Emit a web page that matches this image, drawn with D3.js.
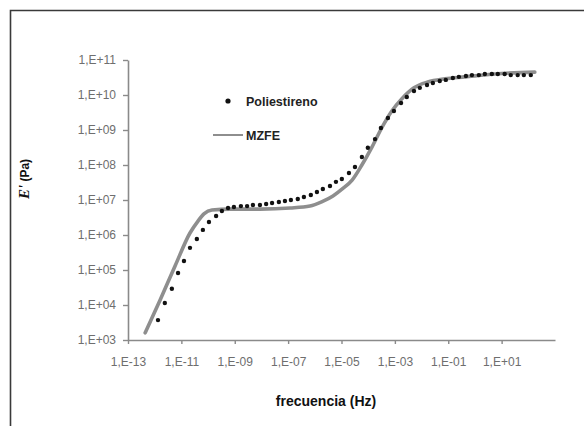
<!DOCTYPE html>
<html>
<head>
<meta charset="utf-8">
<script src="https://cdn.jsdelivr.net/npm/d3@7"></script>
<style>
  html, body { margin: 0; padding: 0; background: #fff; }
  svg { display: block; }
</style>
</head>
<body>
<svg id="chart" width="584" height="426"></svg>
<script>
// Storage modulus E' (Pa) against frequency (Hz): measured polystyrene points
const polyFreq = [
  1.33e-12, 2.4e-12, 4.4e-12, 7.5e-12, 1.25e-11, 2.1e-11, 3.8e-11, 6.4e-11, 1.08e-10, 2.0e-10,
  3.3e-10, 5.6e-10, 9.3e-10, 1.7e-9, 2.9e-9, 4.8e-9, 8.8e-9, 1.5e-8, 2.5e-8, 4.5e-8,
  7.6e-8, 1.27e-7, 2.3e-7, 3.9e-7, 7.1e-7, 1.2e-6, 2.0e-6, 3.7e-6, 6.2e-6, 1.03e-5,
  1.9e-5, 3.2e-5, 5.8e-5, 9.7e-5, 1.8e-4, 3.0e-4, 5.5e-4, 9.2e-4, 1.7e-3, 2.8e-3,
  5.2e-3, 8.6e-3, 1.6e-2, 2.65e-2, 4.8e-2, 8.1e-2, 0.149, 0.25, 0.46, 0.77,
  1.4, 2.35, 4.3, 7.2, 13, 22, 40, 68, 124
];
const polyE = [
  3.7e3, 1.14e4, 2.9e4, 8.2e4, 1.8e5, 4.3e5, 7.7e5, 1.4e6, 2.35e6, 3.5e6,
  4.85e6, 5.9e6, 6.3e6, 6.7e6, 6.7e6, 7.2e6, 7.2e6, 7.7e6, 8.2e6, 8.8e6,
  9.4e6, 1.0e7, 1.07e7, 1.22e7, 1.39e7, 1.7e7, 2.06e7, 2.5e7, 3.3e7, 4.0e7,
  5.9e7, 8.8e7, 1.7e8, 3.1e8, 5.5e8, 1.14e9, 2.2e9, 3.5e9, 5.9e9, 8.8e9,
  1.3e10, 1.6e10, 1.93e10, 2.2e10, 2.5e10, 2.7e10, 3.06e10, 3.3e10, 3.5e10, 3.7e10,
  3.7e10, 4.0e10, 4.0e10, 4.0e10, 4.0e10, 3.7e10, 3.7e10, 3.7e10, 3.7e10
];

// MZFE model curve
const mzfeFreq = [
  4.4e-13, 1.6e-12, 5.8e-12, 2.1e-11, 4.2e-11, 7.0e-11, 1.4e-10, 6.6e-10, 8.8e-9, 1.2e-7,
  6.6e-7, 1.8e-6, 4.8e-6, 1.1e-5, 2.5e-5, 5.8e-5, 1.4e-4, 3.2e-4, 7.7e-4, 1.8e-3,
  5.2e-3, 1.7e-2, 7.5e-2, 0.42, 5.6, 175
];
const mzfeE = [
  1.6e3, 1.4e4, 1.3e5, 1.14e6, 2.5e6, 4.0e6, 5.2e6, 5.5e6, 5.5e6, 5.9e6,
  6.7e6, 8.8e6, 1.3e7, 2.1e7, 3.7e7, 1.0e8, 3.3e8, 1.14e9, 3.5e9, 7.7e9,
  1.6e10, 2.35e10, 2.9e10, 3.3e10, 4.0e10, 4.5e10
];

const xTicks = [1e-13, 1e-11, 1e-9, 1e-7, 1e-5, 1e-3, 1e-1, 1e1];
const xTickLabels = ["1,E-13", "1,E-11", "1,E-09", "1,E-07", "1,E-05", "1,E-03", "1,E-01", "1,E+01"];
const yTicks = [1e3, 1e4, 1e5, 1e6, 1e7, 1e8, 1e9, 1e10, 1e11];
const yTickLabels = ["1,E+03", "1,E+04", "1,E+05", "1,E+06", "1,E+07", "1,E+08", "1,E+09", "1,E+10", "1,E+11"];
const seriesNames = ["Poliestireno", "MZFE"];

const svg = d3.select("#chart");
const W = 584, H = 426;
const plot = { left: 128, right: 555, top: 60, bottom: 340 };

svg.append("rect").attr("width", W).attr("height", H).attr("fill", "#fff");

// outer frame (top and left edges)
svg.append("path")
  .attr("d", `M10.5,${H} V10.5 H${W}`)
  .attr("fill", "none")
  .attr("stroke", "#3a3a3a")
  .attr("stroke-width", 1.6);

const x = d3.scaleLog().domain([1e-13, 1e3]).range([plot.left, plot.right]);
const y = d3.scaleLog().domain([1e3, 1e11]).range([plot.bottom, plot.top]);

const axisColor = "#8a8a8a";
const labelColor = "#6e6e6e";
const font = "Liberation Sans, Arial, sans-serif";

// x axis
const xAxis = svg.append("g")
  .attr("transform", `translate(0,${plot.bottom})`)
  .call(d3.axisBottom(x).tickValues(xTicks)
    .tickFormat((d, i) => xTickLabels[i]).tickSizeInner(4).tickSizeOuter(0).tickPadding(13));
xAxis.select(".domain").attr("stroke", axisColor).attr("stroke-width", 1.6);
xAxis.selectAll(".tick line").attr("stroke", axisColor).attr("stroke-width", 1.4);
xAxis.selectAll(".tick text")
  .attr("fill", labelColor).attr("font-family", font).attr("font-size", 12);

// y axis
const yAxis = svg.append("g")
  .attr("transform", `translate(${plot.left},0)`)
  .call(d3.axisLeft(y).tickValues(yTicks)
    .tickFormat((d, i) => yTickLabels[i]).tickSizeInner(5).tickSizeOuter(0).tickPadding(7));
yAxis.select(".domain").attr("stroke", axisColor).attr("stroke-width", 1.6);
yAxis.selectAll(".tick line").attr("stroke", axisColor).attr("stroke-width", 1.4);
yAxis.selectAll(".tick text")
  .attr("fill", labelColor).attr("font-family", font).attr("font-size", 12);

// model curve
const mzfe = mzfeFreq.map((f, i) => [f, mzfeE[i]]);
svg.append("path")
  .datum(mzfe)
  .attr("fill", "none")
  .attr("stroke", "#8e8e8e")
  .attr("stroke-width", 3.6)
  .attr("stroke-linejoin", "round")
  .attr("stroke-linecap", "round")
  .attr("d", d3.line().x(d => x(d[0])).y(d => y(d[1])).curve(d3.curveMonotoneX));

// measured points
const poly = polyFreq.map((f, i) => [f, polyE[i]]);
svg.append("g").selectAll("circle")
  .data(poly)
  .join("circle")
  .attr("cx", d => x(d[0]))
  .attr("cy", d => y(d[1]))
  .attr("r", 2.2)
  .attr("fill", "#111");

// legend
const legend = svg.append("g").attr("font-family", font).attr("font-weight", "bold")
  .attr("font-size", 12.5).attr("fill", "#222");
legend.append("circle").attr("cx", 228).attr("cy", 101).attr("r", 2.6).attr("fill", "#111");
legend.append("text").attr("x", 246).attr("y", 105.5).text(seriesNames[0]);
legend.append("line").attr("x1", 213).attr("x2", 243).attr("y1", 135).attr("y2", 135)
  .attr("stroke", "#8e8e8e").attr("stroke-width", 2);
legend.append("text").attr("x", 246).attr("y", 139.5).text(seriesNames[1]);

// axis titles
svg.append("text")
  .attr("x", 326).attr("y", 406)
  .attr("text-anchor", "middle")
  .attr("font-family", font).attr("font-weight", "bold").attr("font-size", 14)
  .attr("fill", "#111")
  .text("frecuencia (Hz)");

const yTitle = svg.append("text")
  .attr("transform", "translate(29,179) rotate(-90)")
  .attr("text-anchor", "middle")
  .attr("fill", "#111");
yTitle.append("tspan")
  .attr("font-family", "Liberation Serif, Times New Roman, serif")
  .attr("font-style", "italic").attr("font-weight", "bold").attr("font-size", 15)
  .text("E'");
yTitle.append("tspan")
  .attr("font-family", font).attr("font-weight", "bold").attr("font-size", 12)
  .text(" (Pa)");
</script>
</body>
</html>
